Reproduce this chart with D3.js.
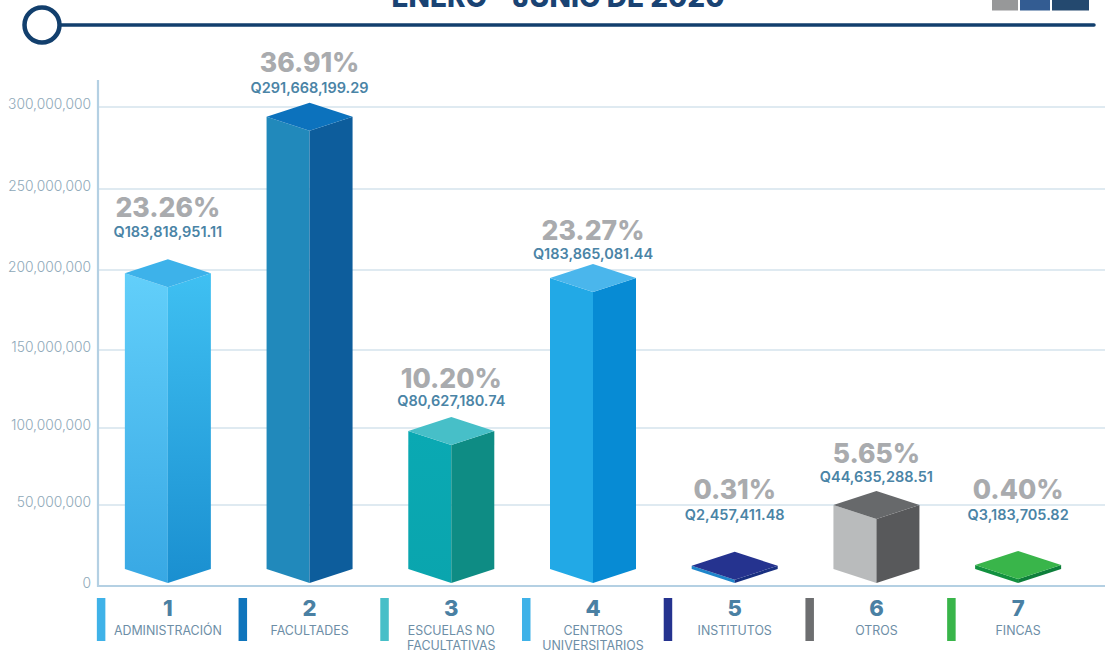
<!DOCTYPE html>
<html><head><meta charset="utf-8">
<script src="https://cdn.jsdelivr.net/npm/d3@7"></script>
<style>html,body{margin:0;padding:0;background:#fff;overflow:hidden}svg{display:block}text{font-family:Inter,"Noto Sans",sans-serif}</style>
</head><body><svg id="c" width="1105" height="653"></svg>
<script>
const categories = ["1","2","3","4","5","6","7"];
const categoryNames = [["ADMINISTRACIÓN"],["FACULTADES"],["ESCUELAS NO","FACULTATIVAS"],["CENTROS","UNIVERSITARIOS"],["INSTITUTOS"],["OTROS"],["FINCAS"]];
const percents = ["23.26%","36.91%","10.20%","23.27%","0.31%","5.65%","0.40%"];
const amounts = [183818951.11,291668199.29,80627180.74,183865081.44,2457411.48,44635288.51,3183705.82];
// level of each bar's top face, read against the picture's axis
const barLevels = [198000000,294000000,98000000,195000000,12500000,50000000,13000000];
const tickValues = [0,50000000,100000000,150000000,200000000,250000000,300000000];
const leftColors = [["#62cffa","#38a8e4"],["#2189bb","#2189bb"],["#0aa9b3","#0aa5ae"],["#22a9e6","#22a9e6"],["#1f86cb","#1f86cb"],["#b9bbbc","#b9bbbc"],["#12913f","#12913f"]];
const rightColors = [["#3fc0f2","#1a8fd0"],["#0d5d9c","#0d5d9c"],["#0e8c84","#0e8c84"],["#078bd4","#078bd4"],["#182f80","#182f80"],["#58595b","#58595b"],["#0e7f3b","#0e7f3b"]];
const topColors = ["#3db2ea","#0c72bd","#47bfc8","#4ab6ec","#25338f","#67696b","#39b54a"];
const swatchColors = ["#3fb2e8","#0f75bc","#47bfc8","#3fb2e8","#25338f","#6d6e70","#39b54a"];

const svg = d3.select("#c");
const navy = "#123f6d";
// header
svg.append("text").attr("x",558).attr("y",7).attr("text-anchor","middle").attr("font-size",28).attr("font-weight",800).attr("fill","#1a4373").text("ENERO - JUNIO DE 2020");
svg.append("line").attr("x1",60).attr("x2",1094).attr("y1",25).attr("y2",25).attr("stroke",navy).attr("stroke-width",3.5).attr("stroke-linecap","round");
svg.append("circle").attr("cx",42).attr("cy",25).attr("r",17.5).attr("fill","#fff").attr("stroke",navy).attr("stroke-width",4.5);
[[992,26,"#979899"],[1020,30,"#335c92"],[1052,37,"#24496f"]].forEach(([x,w,c])=>svg.append("rect").attr("x",x).attr("y",-2).attr("width",w).attr("height",12.5).attr("fill",c));

// axis: the picture's gridlines are slightly unevenly spaced
const y = d3.scaleLinear().domain(tickValues).range([586,505,428,350,270,189,107]);
const x = d3.scaleBand().domain(categories).range([97,1089]);
const gAxis = svg.append("g").attr("transform","translate(98,0)").call(d3.axisLeft(y).tickValues(tickValues).tickFormat(d3.format(",")).tickSize(0).tickPadding(7));
gAxis.select(".domain").remove();
gAxis.selectAll("text").attr("font-size",13.8).attr("font-weight",300).attr("fill","#8ea8b8").attr("dy","0.1em");
svg.insert("g",":first-child").selectAll("line").data(tickValues.slice(1)).join("line")
  .attr("x1",98).attr("x2",1105).attr("y1",d=>y(d)).attr("y2",d=>y(d)).attr("stroke","#dfeaf1").attr("stroke-width",2);
svg.append("path").attr("d","M98,80V586H1105").attr("fill","none").attr("stroke","#b4d0e3").attr("stroke-width",2.2);

// bars
const defs = svg.append("defs");
const grad = (id,c)=>{const g=defs.append("linearGradient").attr("id",id).attr("x1",0).attr("x2",0).attr("y1",0).attr("y2",1);
  g.append("stop").attr("offset",0).attr("stop-color",c[0]);g.append("stop").attr("offset",1).attr("stop-color",c[1]);};
const halfW = 43, halfD = 14, floorY = 569;
const line = d3.line();
const bars = svg.append("g").selectAll("g").data(categories).join("g");
bars.each(function(c,i){
  const g = d3.select(this), cx = x(c)+x.bandwidth()/2, t = y(barLevels[i]);
  grad("l"+i,leftColors[i]);grad("r"+i,rightColors[i]);
  g.append("path").attr("fill",`url(#l${i})`).attr("d",line([[cx-halfW,t],[cx,t+halfD],[cx,floorY+halfD],[cx-halfW,floorY]])+"Z");
  g.append("path").attr("fill",`url(#r${i})`).attr("d",line([[cx+halfW,t],[cx,t+halfD],[cx,floorY+halfD],[cx+halfW,floorY]])+"Z");
  g.append("path").attr("fill",topColors[i]).attr("d",line([[cx-halfW,t],[cx,t-halfD],[cx+halfW,t],[cx,t+halfD]])+"Z");
});

// value labels
const pctBase = [217,72,388,240,499,463,499];
const amtBase = [237,93,406,259,520,482,520];
const fmt = d3.format(",.2f");
categories.forEach((c,i)=>{
  const cx = x(c)+x.bandwidth()/2;
  svg.append("text").attr("x",cx).attr("y",pctBase[i]).attr("text-anchor","middle").attr("font-size",26.5).attr("font-weight",800).attr("fill","#a9abae").text(percents[i]);
  svg.append("text").attr("x",cx).attr("y",amtBase[i]).attr("text-anchor","middle").attr("font-size",14.5).attr("font-weight",600).attr("fill","#4a84a6").text("Q"+fmt(amounts[i]));
  // legend
  svg.append("rect").attr("x",cx-71).attr("y",598).attr("width",8.5).attr("height",43).attr("fill",swatchColors[i]);
  svg.append("text").attr("x",cx).attr("y",616).attr("text-anchor","middle").attr("font-size",22).attr("font-weight",800).attr("fill","#4a80a3").text(c);
  categoryNames[i].forEach((n,k)=>svg.append("text").attr("x",cx).attr("y",635+k*15).attr("text-anchor","middle").attr("font-size",12.4).attr("fill","#6d8ea6").text(n));
});
</script></body></html>
